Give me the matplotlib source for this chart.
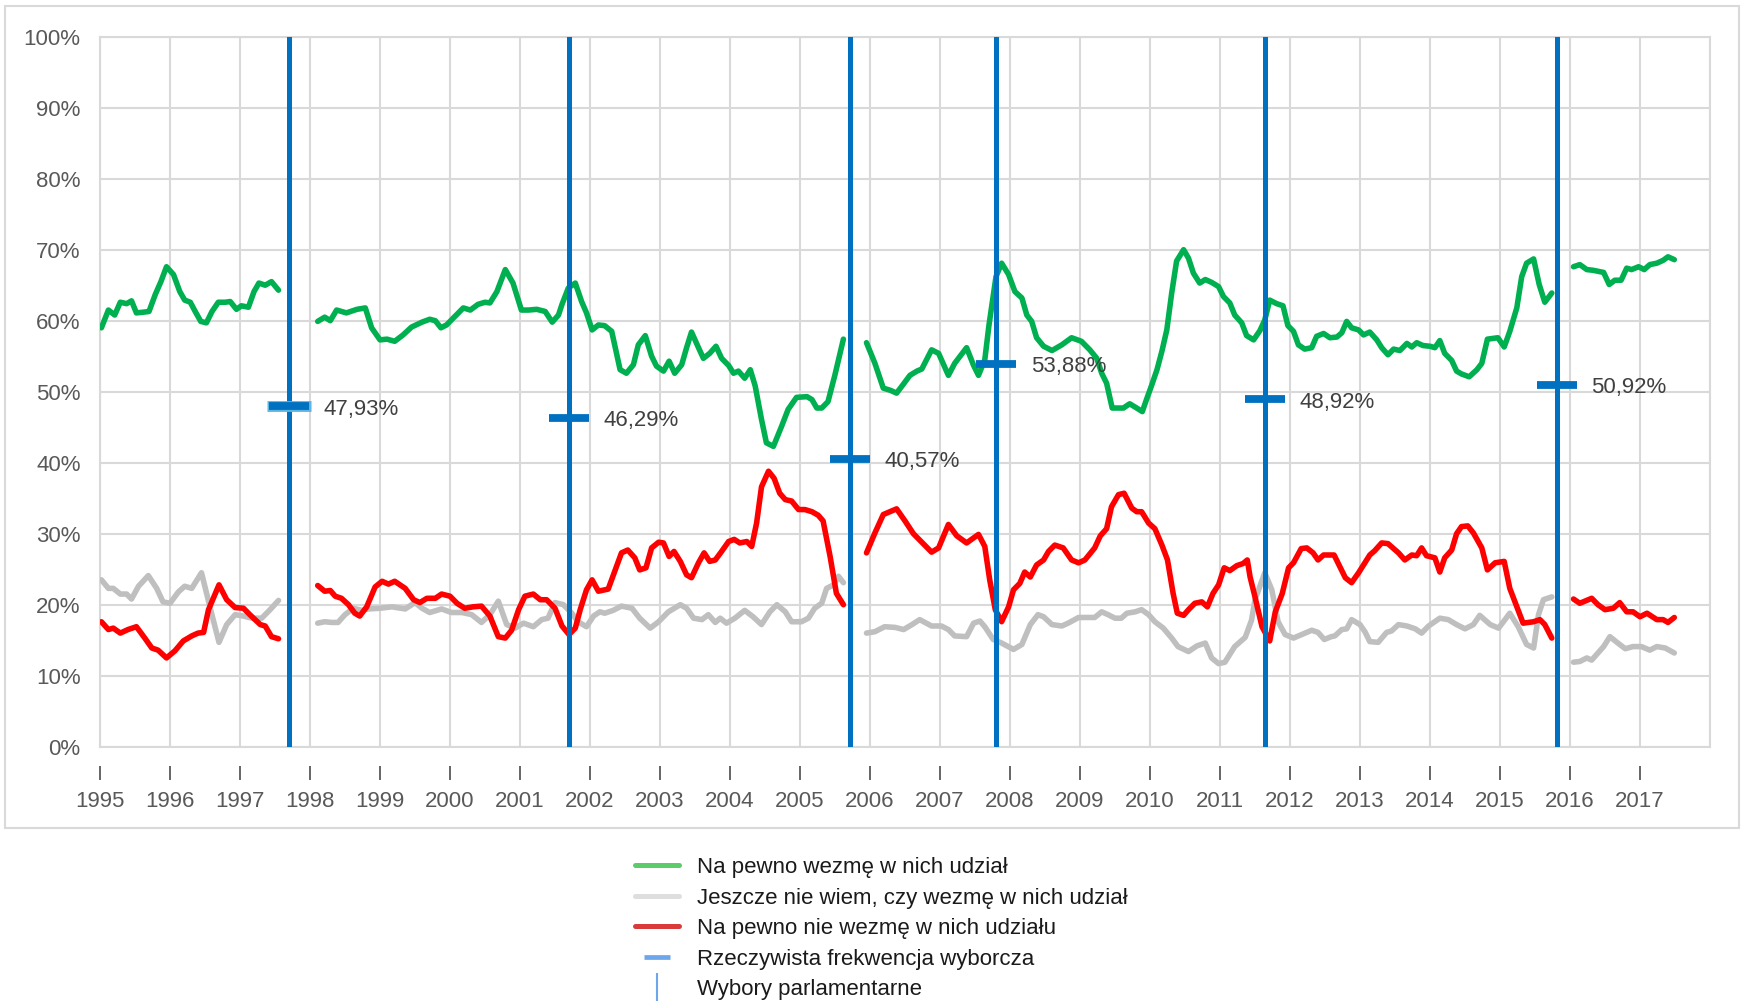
import numpy as np
import matplotlib.pyplot as plt
from matplotlib.lines import Line2D
from matplotlib.patches import Rectangle

plt.rcParams['font.family'] = ['Liberation Sans', 'DejaVu Sans']

nan = np.nan

# "Na pewno wezmę w nich udział" (odczyt z wykresu, w %)
x_tak = [1995.02, 1995.12, 1995.21, 1995.29, 1995.38, 1995.45, 1995.52, 1995.62, 1995.70, 1995.79,
         1995.87, 1995.95, 1996.05, 1996.14, 1996.21, 1996.29, 1996.36, 1996.44, 1996.52, 1996.60,
         1996.69, 1996.79, 1996.86, 1996.95, 1997.02, 1997.12, 1997.20, 1997.27, 1997.36, 1997.45,
         1997.55, nan,
         1998.11, 1998.21, 1998.29, 1998.38, 1998.52, 1998.67, 1998.79, 1998.88, 1999.00, 1999.10,
         1999.21, 1999.33, 1999.45, 1999.60, 1999.71, 1999.79, 1999.87, 1999.95, 2000.07, 2000.19,
         2000.29, 2000.40, 2000.50, 2000.57, 2000.67, 2000.79, 2000.90, 2001.02, 2001.12, 2001.24,
         2001.36, 2001.46, 2001.55, 2001.60, 2001.69, 2001.79, 2001.88, 2001.95, 2002.03, 2002.12,
         2002.21, 2002.31, 2002.43, 2002.52, 2002.62, 2002.69, 2002.79, 2002.88, 2002.95, 2003.05,
         2003.13, 2003.21, 2003.31, 2003.38, 2003.45, 2003.55, 2003.62, 2003.71, 2003.80, 2003.88,
         2003.98, 2004.05, 2004.12, 2004.21, 2004.29, 2004.36, 2004.45, 2004.52, 2004.62, 2004.74,
         2004.83, 2004.95, 2005.10, 2005.17, 2005.24, 2005.31, 2005.40, 2005.50, 2005.62, nan,
         2005.95, 2006.07, 2006.19, 2006.29, 2006.38, 2006.48, 2006.57, 2006.67, 2006.74, 2006.88,
         2006.98, 2007.12, 2007.21, 2007.38, 2007.48, 2007.55, 2007.64, 2007.70, 2007.80, 2007.88,
         2007.98, 2008.07, 2008.17, 2008.24, 2008.31, 2008.38, 2008.48, 2008.60, 2008.74, 2008.88,
         2009.02, 2009.14, 2009.24, 2009.31, 2009.38, 2009.46, 2009.62, 2009.71, 2009.81, 2009.89,
         2009.95, 2010.02, 2010.10, 2010.17, 2010.24, 2010.31, 2010.38, 2010.48, 2010.55, 2010.62,
         2010.71, 2010.79, 2010.88, 2010.98, 2011.05, 2011.14, 2011.21, 2011.31, 2011.38, 2011.48,
         2011.57, 2011.64, 2011.71, 2011.81, 2011.90, 2011.97, 2012.05, 2012.12, 2012.21, 2012.31,
         2012.38, 2012.48, 2012.57, 2012.67, 2012.74, 2012.81, 2012.88, 2012.98, 2013.05, 2013.14,
         2013.24, 2013.31, 2013.40, 2013.48, 2013.57, 2013.67, 2013.74, 2013.81, 2013.90, 2014.00,
         2014.07, 2014.14, 2014.21, 2014.31, 2014.38, 2014.45, 2014.56, 2014.67, 2014.74, 2014.82,
         2014.97, 2015.06, 2015.14, 2015.24, 2015.31, 2015.38, 2015.48, 2015.56, 2015.64, 2015.74, nan,
         2016.05, 2016.14, 2016.24, 2016.33, 2016.48, 2016.56, 2016.64, 2016.73, 2016.81, 2016.88,
         2016.98, 2017.06, 2017.14, 2017.24, 2017.33, 2017.40, 2017.49]
tak = [59.0, 61.5, 60.8, 62.6, 62.4, 62.8, 61.1, 61.2, 61.3, 63.7,
       65.5, 67.6, 66.5, 64.1, 62.9, 62.6, 61.3, 59.9, 59.7, 61.3,
       62.6, 62.6, 62.7, 61.6, 62.1, 61.9, 64.1, 65.3, 65.0, 65.5,
       64.3, nan,
       59.9, 60.5, 60.0, 61.5, 61.1, 61.6, 61.8, 59.0, 57.3, 57.4,
       57.1, 58.0, 59.1, 59.8, 60.2, 60.0, 59.0, 59.4, 60.6, 61.8,
       61.5, 62.3, 62.6, 62.5, 64.1, 67.2, 65.3, 61.5, 61.5, 61.6,
       61.3, 59.8, 60.8, 62.3, 64.6, 65.3, 62.7, 61.1, 58.7, 59.4,
       59.3, 58.5, 53.1, 52.6, 53.8, 56.6, 57.9, 55.0, 53.6, 52.9,
       54.3, 52.6, 53.8, 56.2, 58.4, 56.2, 54.7, 55.4, 56.4, 54.7,
       53.7, 52.6, 52.9, 51.9, 53.1, 50.8, 46.1, 42.8, 42.3, 45.2,
       47.5, 49.2, 49.3, 48.9, 47.7, 47.7, 48.6, 52.4, 57.4, nan,
       56.9, 54.0, 50.5, 50.2, 49.8, 51.1, 52.3, 52.9, 53.2, 55.9,
       55.4, 52.3, 54.0, 56.2, 53.7, 52.3, 54.5, 59.4, 66.2, 68.1,
       66.5, 64.1, 63.2, 60.8, 59.9, 57.6, 56.4, 55.8, 56.6, 57.6,
       57.1, 55.9, 54.7, 52.6, 51.2, 47.7, 47.7, 48.3, 47.7, 47.2,
       48.9, 50.8, 53.1, 55.7, 58.7, 63.9, 68.4, 70.0, 68.8, 66.7,
       65.3, 65.8, 65.4, 64.8, 63.4, 62.5, 60.8, 59.7, 57.9, 57.3,
       58.6, 60.1, 62.9, 62.4, 62.1, 59.3, 58.5, 56.6, 56.0, 56.2,
       57.8, 58.2, 57.6, 57.7, 58.3, 59.9, 59.0, 58.7, 58.0, 58.4,
       57.3, 56.2, 55.2, 56.0, 55.8, 56.8, 56.3, 56.9, 56.5, 56.4,
       56.2, 57.2, 55.4, 54.4, 52.9, 52.5, 52.1, 53.1, 54.0, 57.4,
       57.6, 56.3, 58.5, 61.8, 66.2, 68.1, 68.7, 65.1, 62.6, 63.9, nan,
       67.6, 67.9, 67.2, 67.1, 66.8, 65.1, 65.7, 65.7, 67.4, 67.2,
       67.6, 67.2, 67.9, 68.1, 68.5, 69.0, 68.6]

# "Jeszcze nie wiem, czy wezmę w nich udział"
x_nie_wiem = [1995.02, 1995.12, 1995.19, 1995.29, 1995.38, 1995.45, 1995.55, 1995.69, 1995.81, 1995.90,
              1996.00, 1996.12, 1996.21, 1996.31, 1996.45, 1996.57, 1996.70, 1996.81, 1996.93, 1997.05,
              1997.17, 1997.31, 1997.43, 1997.55, nan,
              1998.11, 1998.21, 1998.31, 1998.40, 1998.50, 1998.62, 1998.74, 1998.83, 1999.00, 1999.17,
              1999.36, 1999.50, 1999.60, 1999.71, 1999.88, 2000.02, 2000.17, 2000.31, 2000.45, 2000.57,
              2000.69, 2000.81, 2000.93, 2001.05, 2001.19, 2001.31, 2001.40, 2001.50, 2001.62, 2001.74,
              2001.83, 2001.95, 2002.05, 2002.14, 2002.21, 2002.33, 2002.45, 2002.60, 2002.71, 2002.86,
              2002.98, 2003.12, 2003.29, 2003.38, 2003.48, 2003.60, 2003.69, 2003.79, 2003.86, 2003.95,
              2004.07, 2004.21, 2004.33, 2004.45, 2004.57, 2004.67, 2004.79, 2004.88, 2005.02, 2005.12,
              2005.21, 2005.31, 2005.38, 2005.48, 2005.55, 2005.62, nan,
              2005.95, 2006.07, 2006.21, 2006.36, 2006.48, 2006.60, 2006.71, 2006.88, 2007.02, 2007.12,
              2007.21, 2007.38, 2007.48, 2007.57, 2007.64, 2007.76, 2007.88, 2008.05, 2008.17, 2008.29,
              2008.40, 2008.48, 2008.60, 2008.74, 2008.83, 2008.98, 2009.21, 2009.31, 2009.40, 2009.50,
              2009.59, 2009.67, 2009.79, 2009.88, 2009.98, 2010.07, 2010.19, 2010.31, 2010.40, 2010.55,
              2010.67, 2010.79, 2010.88, 2010.98, 2011.07, 2011.21, 2011.36, 2011.45, 2011.50, 2011.64,
              2011.74, 2011.83, 2011.93, 2012.05, 2012.17, 2012.31, 2012.40, 2012.49, 2012.59, 2012.64,
              2012.74, 2012.81, 2012.88, 2013.00, 2013.07, 2013.14, 2013.26, 2013.38, 2013.45, 2013.55,
              2013.67, 2013.79, 2013.88, 2013.98, 2014.14, 2014.26, 2014.38, 2014.50, 2014.62, 2014.71,
              2014.86, 2014.98, 2015.14, 2015.26, 2015.38, 2015.48, 2015.55, 2015.62, 2015.74, nan,
              2016.05, 2016.14, 2016.24, 2016.31, 2016.40, 2016.48, 2016.57, 2016.67, 2016.79, 2016.90,
              2017.02, 2017.14, 2017.24, 2017.36, 2017.49]
nie_wiem = [23.5, 22.3, 22.3, 21.5, 21.5, 20.8, 22.6, 24.1, 22.3, 20.4,
            20.2, 21.8, 22.6, 22.3, 24.5, 19.7, 14.7, 17.2, 18.6, 18.4,
            18.1, 18.1, 19.3, 20.6, nan,
            17.4, 17.6, 17.5, 17.5, 18.6, 19.5, 19.2, 19.4, 19.5, 19.7,
            19.4, 20.3, 19.5, 18.9, 19.4, 18.9, 18.9, 18.6, 17.5, 18.6,
            20.5, 17.2, 16.7, 17.4, 16.9, 17.9, 18.1, 20.3, 20.0, 18.8,
            17.6, 16.9, 18.4, 19.0, 18.8, 19.2, 19.8, 19.5, 18.1, 16.7,
            17.6, 19.0, 20.0, 19.5, 18.1, 17.9, 18.6, 17.5, 18.1, 17.4,
            18.1, 19.2, 18.3, 17.2, 19.0, 20.0, 19.0, 17.6, 17.6, 18.1,
            19.5, 20.2, 22.3, 22.8, 24.0, 23.1, nan,
            16.0, 16.2, 16.9, 16.8, 16.5, 17.2, 17.9, 17.0, 17.0, 16.5,
            15.6, 15.5, 17.4, 17.7, 16.9, 15.1, 14.6, 13.7, 14.4, 17.2,
            18.6, 18.3, 17.2, 17.0, 17.4, 18.2, 18.2, 19.0, 18.6, 18.1,
            18.1, 18.8, 19.0, 19.3, 18.6, 17.6, 16.7, 15.3, 14.1, 13.4,
            14.2, 14.6, 12.5, 11.7, 11.9, 14.1, 15.4, 17.8, 20.7, 24.5,
            22.1, 17.6, 15.8, 15.3, 15.8, 16.4, 16.1, 15.1, 15.5, 15.6,
            16.5, 16.6, 17.9, 17.2, 16.2, 14.8, 14.7, 16.1, 16.3, 17.2,
            17.0, 16.6, 16.0, 17.0, 18.1, 17.9, 17.2, 16.6, 17.2, 18.5,
            17.2, 16.7, 18.8, 16.9, 14.4, 13.9, 18.6, 20.7, 21.1, nan,
            11.9, 12.0, 12.5, 12.2, 13.2, 14.1, 15.5, 14.7, 13.8, 14.1,
            14.1, 13.6, 14.1, 13.9, 13.2]

# "Na pewno nie wezmę w nich udziału"
x_nie = [1995.02, 1995.12, 1995.19, 1995.29, 1995.40, 1995.52, 1995.64, 1995.74, 1995.83, 1995.95,
         1996.07, 1996.19, 1996.31, 1996.40, 1996.48, 1996.55, 1996.70, 1996.81, 1996.93, 1997.05,
         1997.14, 1997.29, 1997.36, 1997.45, 1997.55, nan,
         1998.11, 1998.21, 1998.29, 1998.36, 1998.45, 1998.55, 1998.64, 1998.71, 1998.81, 1998.93,
         1999.03, 1999.12, 1999.21, 1999.36, 1999.48, 1999.57, 1999.67, 1999.79, 1999.88, 2000.00,
         2000.10, 2000.21, 2000.33, 2000.45, 2000.57, 2000.69, 2000.79, 2000.88, 2000.98, 2001.07,
         2001.19, 2001.29, 2001.38, 2001.50, 2001.60, 2001.70, 2001.79, 2001.86, 2001.95, 2002.03,
         2002.12, 2002.26, 2002.36, 2002.45, 2002.54, 2002.64, 2002.71, 2002.80, 2002.88, 2002.98,
         2003.05, 2003.13, 2003.20, 2003.29, 2003.38, 2003.45, 2003.55, 2003.63, 2003.71, 2003.79,
         2003.88, 2003.98, 2004.06, 2004.14, 2004.24, 2004.31, 2004.38, 2004.45, 2004.55, 2004.63,
         2004.71, 2004.79, 2004.88, 2004.98, 2005.07, 2005.17, 2005.26, 2005.33, 2005.43, 2005.52,
         2005.62, nan,
         2005.95, 2006.07, 2006.19, 2006.38, 2006.50, 2006.62, 2006.74, 2006.88, 2006.98, 2007.12,
         2007.24, 2007.38, 2007.55, 2007.64, 2007.71, 2007.79, 2007.88, 2007.98, 2008.05, 2008.14,
         2008.21, 2008.29, 2008.38, 2008.48, 2008.55, 2008.64, 2008.76, 2008.88, 2008.98, 2009.07,
         2009.21, 2009.29, 2009.38, 2009.45, 2009.55, 2009.63, 2009.74, 2009.81, 2009.88, 2009.98,
         2010.07, 2010.17, 2010.25, 2010.33, 2010.39, 2010.48, 2010.55, 2010.64, 2010.74, 2010.82,
         2010.90, 2010.98, 2011.06, 2011.14, 2011.24, 2011.33, 2011.39, 2011.43, 2011.50, 2011.60,
         2011.71, 2011.79, 2011.89, 2011.98, 2012.05, 2012.16, 2012.24, 2012.33, 2012.40, 2012.48,
         2012.63, 2012.71, 2012.79, 2012.88, 2012.98, 2013.07, 2013.14, 2013.21, 2013.31, 2013.40,
         2013.55, 2013.64, 2013.74, 2013.81, 2013.88, 2013.95, 2014.07, 2014.14, 2014.21, 2014.31,
         2014.38, 2014.45, 2014.54, 2014.62, 2014.74, 2014.82, 2014.93, 2015.06, 2015.14, 2015.24,
         2015.33, 2015.48, 2015.57, 2015.64, 2015.74, nan,
         2016.05, 2016.14, 2016.31, 2016.40, 2016.50, 2016.62, 2016.71, 2016.81, 2016.90, 2017.00,
         2017.10, 2017.24, 2017.33, 2017.40, 2017.49]
nie = [17.6, 16.5, 16.7, 16.0, 16.5, 16.9, 15.3, 13.9, 13.6, 12.5,
       13.5, 14.9, 15.6, 16.0, 16.1, 19.3, 22.8, 20.7, 19.6, 19.5,
       18.6, 17.2, 17.0, 15.5, 15.2, nan,
       22.7, 21.9, 22.0, 21.2, 20.9, 20.0, 18.8, 18.4, 19.7, 22.5,
       23.3, 22.9, 23.3, 22.3, 20.7, 20.3, 20.9, 20.9, 21.5, 21.2,
       20.2, 19.5, 19.7, 19.8, 18.4, 15.5, 15.3, 16.4, 19.3, 21.2,
       21.5, 20.7, 20.7, 19.5, 17.0, 15.8, 16.7, 19.3, 22.1, 23.5,
       21.9, 22.2, 24.9, 27.3, 27.7, 26.6, 24.9, 25.2, 28.0, 28.8,
       28.7, 26.8, 27.5, 26.1, 24.2, 23.8, 25.9, 27.3, 26.1, 26.3,
       27.5, 28.9, 29.2, 28.7, 28.9, 28.2, 31.5, 36.6, 38.8, 37.8,
       35.7, 34.8, 34.6, 33.4, 33.4, 33.1, 32.6, 31.8, 26.8, 21.6,
       20.0, nan,
       27.3, 30.1, 32.7, 33.5, 31.8, 30.0, 28.8, 27.4, 28.0, 31.3,
       29.7, 28.7, 29.9, 28.2, 23.5, 19.3, 17.6, 19.7, 22.1, 23.0,
       24.6, 23.9, 25.6, 26.3, 27.5, 28.4, 28.0, 26.3, 25.9, 26.3,
       28.0, 29.7, 30.7, 33.8, 35.5, 35.7, 33.6, 33.1, 33.1, 31.5,
       30.7, 28.4, 26.3, 21.6, 18.8, 18.5, 19.3, 20.2, 20.4, 19.7,
       21.6, 22.8, 25.2, 24.8, 25.5, 25.8, 26.3, 23.9, 21.1, 16.9,
       14.9, 19.0, 21.6, 25.2, 25.9, 27.9, 28.0, 27.3, 26.3, 27.0,
       27.0, 25.4, 23.8, 23.1, 24.5, 25.9, 27.0, 27.6, 28.7, 28.6,
       27.3, 26.3, 27.0, 26.9, 28.0, 26.9, 26.6, 24.6, 26.6, 27.7,
       30.0, 31.0, 31.1, 30.1, 28.0, 24.9, 25.9, 26.1, 22.3, 19.7,
       17.4, 17.6, 17.9, 17.2, 15.3, nan,
       20.8, 20.2, 20.9, 20.0, 19.3, 19.5, 20.3, 19.0, 19.0, 18.3,
       18.8, 17.9, 17.9, 17.5, 18.2]

# wybory parlamentarne i rzeczywista frekwencja
wybory = [1997.70, 2001.70, 2005.71, 2007.80, 2011.64, 2015.81]
frekwencja = [47.93, 46.29, 40.57, 53.88, 48.92, 50.92]

lata = list(range(1995, 2018))
procenty = list(range(0, 101, 10))

etykiety = ['Na pewno wezmę w nich udział',
            'Jeszcze nie wiem, czy wezmę w nich udział',
            'Na pewno nie wezmę w nich udziału',
            'Rzeczywista frekwencja wyborcza',
            'Wybory parlamentarne']

ZIELONY = '#00b050'
SZARY = '#bfbfbf'
CZERWONY = '#ff0000'
NIEBIESKI = '#0070c0'
SIATKA = '#d9d9d9'
TEKST = '#595959'

fig = plt.figure(figsize=(17.42, 10.02), dpi=100)
ax = fig.add_axes([100 / 1742, 1 - 746.7 / 1002, 1610 / 1742, 710 / 1002])

styl = dict(lw=4.0, solid_joinstyle='round', solid_capstyle='round', zorder=3)
ax.plot(np.array(x_nie_wiem, dtype=float), np.array(nie_wiem, dtype=float), color=SZARY, **styl)
ax.plot(np.array(x_nie, dtype=float), np.array(nie, dtype=float), color=CZERWONY, **styl)
ax.plot(np.array(x_tak, dtype=float), np.array(tak, dtype=float), color=ZIELONY, **styl)

for w in wybory:
    ax.axvline(w, color=NIEBIESKI, lw=3.6, zorder=4)

# pierwsza frekwencja ma jasną obwódkę
ax.plot(wybory[:1], frekwencja[:1], ls='none', marker='_', ms=31.5, mew=7.8,
        color='#5db4e3', zorder=5)
ax.plot(wybory, frekwencja, ls='none', marker='_', ms=29.5, mew=5.6,
        color=NIEBIESKI, zorder=6)
for w, f in zip(wybory, frekwencja):
    ax.annotate(f'{f:.2f}%'.replace('.', ','), (w, f), xytext=(25, -2),
                textcoords='offset points', va='center', ha='left',
                fontsize=16, color='#404040', zorder=7)

ax.set_xlim(1995, 2018)
ax.set_ylim(0, 100)
ax.set_xticks(list(range(1995, 2019)))
ax.set_yticks(procenty)
ax.set_yticklabels([f'{p}%' for p in procenty])
ax.grid(True, color=SIATKA, lw=1.5)
ax.set_axisbelow(True)
for s in ax.spines.values():
    s.set_color(SIATKA)
    s.set_linewidth(1.5)
ax.tick_params(axis='x', length=0, labelbottom=False)
ax.tick_params(axis='y', length=0, pad=14, labelsize=16, labelcolor=TEKST)

# osobna oś z kreskami lat, odsunięta od wykresu
sec = ax.secondary_xaxis(-19 / 710)
sec.set_xticks(lata)
sec.set_xticklabels([str(r) for r in lata])
sec.spines['bottom'].set_visible(False)
sec.tick_params(length=10, width=1.3, color=TEKST, labelsize=16,
                labelcolor=TEKST, pad=8)

# ramka wokół wykresu
fig.add_artist(Rectangle((5 / 1742, 174 / 1002), 1734 / 1742, 822 / 1002,
                         transform=fig.transFigure, fill=False,
                         ec=SIATKA, lw=1.5))

uchwyty = [Line2D([], [], color='#5ccc6a', lw=3.6, solid_capstyle='round'),
           Line2D([], [], color='#dedede', lw=3.6, solid_capstyle='round'),
           Line2D([], [], color='#d93a3a', lw=3.6, solid_capstyle='round'),
           Line2D([], [], ls='none', marker='_', ms=19, mew=3.4, color='#6ea6ec'),
           Line2D([], [], ls='none', marker='|', ms=20, mew=1.5, color='#6ea6ec')]
fig.legend(uchwyty, etykiety, loc='upper left',
           bbox_to_anchor=(635 / 1742, 1 - 857 / 1002), frameon=False,
           fontsize=16, handlelength=2.0, handletextpad=0.8,
           labelspacing=0.43, borderpad=0, borderaxespad=0,
           labelcolor='#1a1a1a')

fig.savefig('out.png', dpi=100)
